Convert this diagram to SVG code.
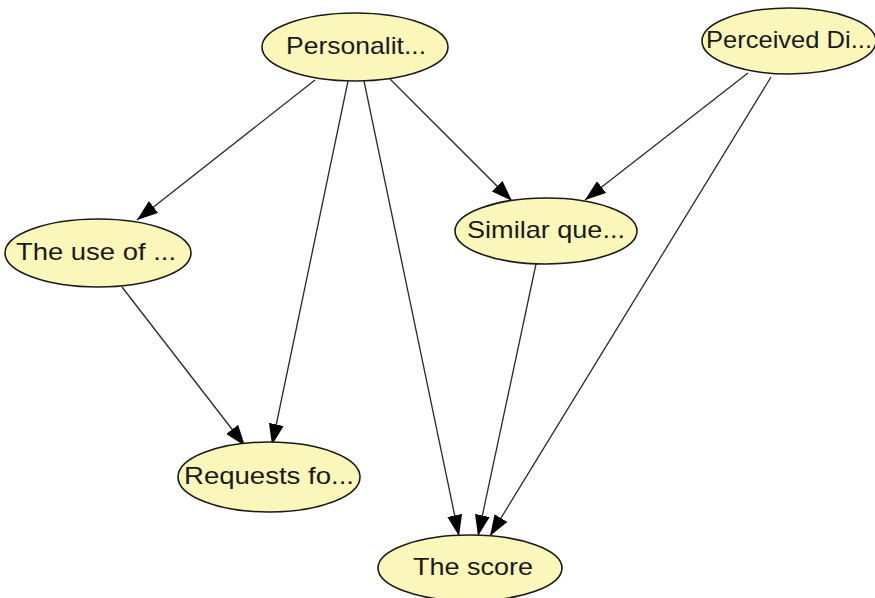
<svg xmlns="http://www.w3.org/2000/svg" width="875" height="598" viewBox="0 0 875 598">
  <style>
    .node ellipse { fill: #fbf6b9; stroke: #1a1a1a; stroke-width: 1.6; }
    .node text { font-family: "Liberation Sans", Arial, sans-serif; font-size: 24px; fill: #1a1a1a; text-anchor: middle; }
    .edge { stroke: #2a2a2a; stroke-width: 1.3; fill: none; marker-end: url(#arrow); }
  </style>
  <defs>
    <marker id="arrow" viewBox="0 0 21 15" refX="21" refY="7.5" markerWidth="21" markerHeight="15" markerUnits="userSpaceOnUse" orient="auto">
      <path d="M0,0 L21,7.5 L0,15 Z" fill="#000000"/>
    </marker>
  </defs>
  <rect width="875" height="598" fill="#ffffff"/>

  <g id="connectors">
    <line class="edge" x1="315" y1="80" x2="137" y2="220"/>
    <line class="edge" x1="348" y1="81" x2="272" y2="445"/>
    <line class="edge" x1="364" y1="81" x2="459" y2="536"/>
    <line class="edge" x1="390" y1="79" x2="512" y2="201"/>
    <line class="edge" x1="748" y1="73" x2="585" y2="200"/>
    <line class="edge" x1="771" y1="77" x2="490" y2="536"/>
    <line class="edge" x1="122" y1="287" x2="245" y2="446"/>
    <line class="edge" x1="536" y1="264" x2="478" y2="536"/>
  </g>

  <g id="personality" class="node">
    <ellipse cx="355" cy="47" rx="93" ry="34"/>
    <text x="356" y="54" textLength="140" lengthAdjust="spacingAndGlyphs">Personalit...</text>
  </g>
  <g id="perceived" class="node">
    <ellipse cx="789" cy="41" rx="87" ry="33"/>
    <text x="789" y="48" textLength="166" lengthAdjust="spacingAndGlyphs">Perceived Di...</text>
  </g>
  <g id="use-of" class="node">
    <ellipse cx="98" cy="253" rx="93" ry="34"/>
    <text x="96" y="260" textLength="160" lengthAdjust="spacingAndGlyphs">The use of ...</text>
  </g>
  <g id="similar" class="node">
    <ellipse cx="546" cy="231" rx="91" ry="33"/>
    <text x="546" y="238" textLength="158" lengthAdjust="spacingAndGlyphs">Similar que...</text>
  </g>
  <g id="requests" class="node">
    <ellipse cx="269" cy="477" rx="91" ry="35"/>
    <text x="269" y="484" textLength="170" lengthAdjust="spacingAndGlyphs">Requests fo...</text>
  </g>
  <g id="score" class="node">
    <ellipse cx="470" cy="568" rx="92" ry="33"/>
    <text x="473" y="575" textLength="120" lengthAdjust="spacingAndGlyphs">The score</text>
  </g>
</svg>
